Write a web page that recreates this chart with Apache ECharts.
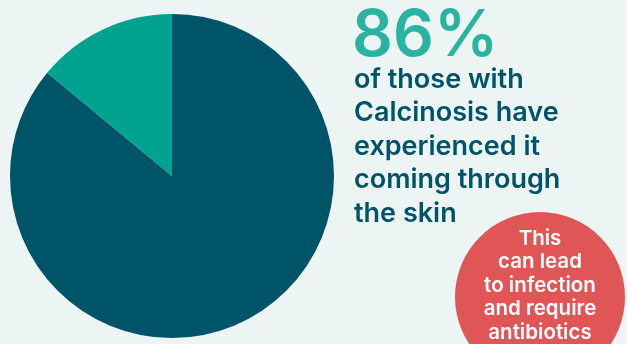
<!DOCTYPE html>
<html><head><meta charset="utf-8">
<script src="https://cdn.jsdelivr.net/npm/echarts@6/dist/echarts.min.js"></script>
<style>html,body{margin:0;padding:0;background:#edf5f4}#c{width:627px;height:344px}</style>
</head><body><div id="c"></div>
<script>
const categories = ['Coming through the skin', 'Not'];
const values = [86, 14];
const colors = ['#005468', '#00a390'];
const headline = values[0] + '%';
const bodyLines = ['of those with', 'Calcinosis have', 'experienced it', 'coming through', 'the skin'];
const bubbleLines = ['This', 'can lead', 'to infection', 'and require', 'antibiotics'];

const chart = echarts.init(document.getElementById('c'), null, {renderer: 'canvas'});
const font = '"Inter", "Noto Sans", sans-serif';
chart.setOption({
  backgroundColor: '#edf5f4',
  animation: false,
  series: [{
    type: 'pie',
    center: [172, 176],
    radius: [0, 162],
    startAngle: 90,
    clockwise: true,
    label: {show: false},
    labelLine: {show: false},
    silent: true,
    data: categories.map((c, i) => ({name: c, value: values[i], itemStyle: {color: colors[i]}}))
  }],
  graphic: [
    {type: 'text', left: 352, top: 5, style: {text: headline, fill: '#2bb3a1', font: '600 64px ' + font}},
    {type: 'text', left: 354, top: 63, style: {text: bodyLines.join('\n'), fill: '#005468', font: '600 27px ' + font, lineHeight: 33.5}},
    {type: 'circle', shape: {cx: 540, cy: 297, r: 85}, style: {fill: '#e05656'}},
    {type: 'text', x: 540, y: 227, style: {text: bubbleLines.join('\n'), fill: '#ffffff', font: '600 20.5px ' + font, lineHeight: 23.5, align: 'center', verticalAlign: 'top'}}
  ]
});
</script></body></html>
